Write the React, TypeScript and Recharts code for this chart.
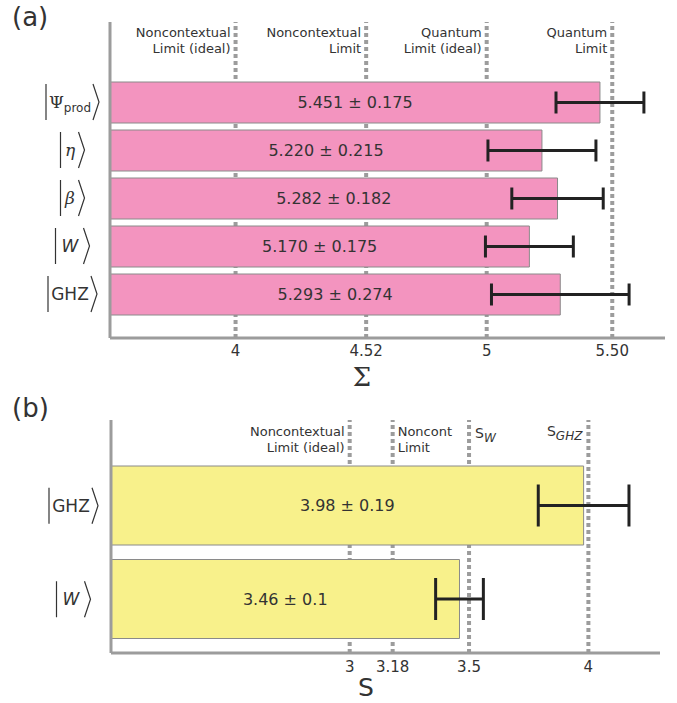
import React from "react";
import { BarChart, Bar, XAxis, YAxis, ReferenceLine, ErrorBar, LabelList } from "recharts";

// panel (a): Sigma
const sigmaStates = ["Ψprod", "η", "β", "W", "GHZ"];
const sigmaValues = [5.451, 5.22, 5.282, 5.17, 5.293];
const sigmaErrors = [0.175, 0.215, 0.182, 0.175, 0.274];
const sigmaTicks = [4, 4.52, 5, 5.5];
const sigmaLimitLabels = [
  ["Noncontextual", "Limit (ideal)"],
  ["Noncontextual", "Limit"],
  ["Quantum", "Limit (ideal)"],
  ["Quantum", "Limit"],
];

// panel (b): S
const sStates = ["GHZ", "W"];
const sValues = [3.98, 3.46];
const sErrors = [0.19, 0.1];
const sTicks = [3, 3.18, 3.5, 4];

const FONT = "'DejaVu Sans', sans-serif";
const INK = "#333";
const GRAY = "#9c9c9c";

const sigmaData = sigmaStates.map((name, i) => ({
  name,
  value: sigmaValues[i],
  err: sigmaErrors[i],
  label: `${sigmaValues[i].toFixed(3)} ± ${sigmaErrors[i].toFixed(3)}`,
}));
const sData = sStates.map((name, i) => ({
  name,
  value: sValues[i],
  err: sErrors[i],
  label: `${sValues[i]} ± ${sErrors[i]}`,
}));

const KET_W: Record<string, number> = { "Ψprod": 40, "η": 11, "β": 11, W: 21, GHZ: 36 };

function ketBody(name: string) {
  if (name === "Ψprod")
    return (
      <>
        <tspan fontFamily="'DejaVu Serif', serif" fontSize={17}>Ψ</tspan>
        <tspan fontSize={12} dy={4}>prod</tspan>
      </>
    );
  if (name === "η" || name === "β")
    return <tspan fontFamily="'DejaVu Serif', serif" fontStyle="italic" fontSize={17}>{name}</tspan>;
  if (name === "W") return <tspan fontStyle="italic" fontSize={17}>W</tspan>;
  return <tspan fontSize={17}>{name}</tspan>;
}

function KetTick(props: any) {
  const { x, y, payload } = props;
  const name = payload.value as string;
  const cx = x - 38;
  const w = KET_W[name] ?? 30;
  const l = cx - w / 2 - 4;
  const r = cx + w / 2 + 3;
  return (
    <g>
      <line x1={l} x2={l} y1={y - 18} y2={y + 18} stroke={INK} strokeWidth={1.2} />
      <polyline
        points={`${r},${y - 18} ${r + 6},${y} ${r},${y + 18}`}
        fill="none"
        stroke={INK}
        strokeWidth={1.2}
      />
      <text x={cx} y={y + 6} textAnchor="middle" fill={INK} fontFamily={FONT}>
        {ketBody(name)}
      </text>
    </g>
  );
}

function limitLabel(lines: string[], anchor: "start" | "end", top: number[]) {
  return (p: any) => {
    const vb = p.viewBox || {};
    const x = anchor === "end" ? vb.x - 5 : vb.x + 5;
    return (
      <text textAnchor={anchor} fill={INK} fontFamily={FONT} fontSize={13}>
        {lines.map((t, i) => (
          <tspan key={i} x={x} y={vb.y + top[i]}>
            {t}
          </tspan>
        ))}
      </text>
    );
  };
}

function subLabel(main: string, sub: string, anchor: "start" | "end", top: number) {
  return (p: any) => {
    const vb = p.viewBox || {};
    const x = anchor === "end" ? vb.x - 6 : vb.x + 6;
    return (
      <text x={x} y={vb.y + top} textAnchor={anchor} fill={INK} fontFamily={FONT} fontSize={14}>
        {main}
        <tspan fontSize={12} dy={4} fontStyle="italic">{sub}</tspan>
      </text>
    );
  };
}

const refStyle = { stroke: GRAY, strokeWidth: 4, strokeDasharray: "4 3", zIndex: 0 };

export default function App() {
  return (
    <div style={{ position: "absolute", left: 0, top: 0, width: 677, height: 703, background: "#fff", fontFamily: FONT }}>
      <div style={{ position: "absolute", left: 12, top: 2, fontSize: 26, color: INK }}>(a)</div>
      <div style={{ position: "absolute", left: 0, top: 0 }}>
        <BarChart
          width={677}
          height={395}
          data={sigmaData}
          layout="vertical"
          margin={{ top: 22, right: 12, bottom: 27, left: 0 }}
          barSize={41}
        >
          <XAxis
            type="number"
            domain={[3.5, 5.71]}
            ticks={sigmaTicks}
            allowDataOverflow
            interval={0}
            height={30}
            tickSize={0}
            tickMargin={7}
            tickLine={false}
            tickFormatter={(v: number) => (v === 5.5 ? "5.50" : String(v))}
            tick={{ fill: INK, fontSize: 15, fontFamily: FONT }}
            axisLine={{ stroke: GRAY, strokeWidth: 3 }}
            label={{
              content: (p: any) => (
                <text
                  x={p.viewBox.x + 252}
                  y={p.viewBox.y + 48}
                  textAnchor="middle"
                  fill={INK}
                  fontFamily="'DejaVu Serif', serif"
                  fontSize={26}
                >
                  Σ
                </text>
              ),
            }}
          />
          <YAxis
            type="category"
            dataKey="name"
            width={110}
            tickLine={false}
            tickSize={0}
            padding={{ top: 56, bottom: 20 }}
            axisLine={{ stroke: GRAY, strokeWidth: 3 }}
            tick={<KetTick />}
          />
          {sigmaTicks.map((v, i) => (
            <ReferenceLine key={v} x={v} {...refStyle} label={limitLabel(sigmaLimitLabels[i], "end", [15, 31])} />
          ))}
          <Bar dataKey="value" fill="#f394bf" stroke="#8a8a8a" strokeWidth={1} isAnimationActive={false}>
            <LabelList dataKey="label" position="center" fill={INK} fontSize={16} fontFamily={FONT} />
            <ErrorBar dataKey="err" direction="x" width={11} stroke="#222" strokeWidth={3} isAnimationActive={false} />
          </Bar>
        </BarChart>
      </div>

      <div style={{ position: "absolute", left: 12, top: 393, fontSize: 26, color: INK }}>(b)</div>
      <div style={{ position: "absolute", left: 0, top: 395 }}>
        <BarChart
          width={677}
          height={308}
          data={sData}
          layout="vertical"
          margin={{ top: 25, right: 17, bottom: 20, left: 0 }}
          barSize={79}
        >
          <XAxis
            type="number"
            domain={[2, 4.3]}
            ticks={sTicks}
            allowDataOverflow
            interval={0}
            height={30}
            tickSize={0}
            tickMargin={8}
            tickLine={false}
            tick={{ fill: INK, fontSize: 15, fontFamily: FONT }}
            axisLine={{ stroke: GRAY, strokeWidth: 3 }}
            label={{
              content: (p: any) => (
                <text x={p.viewBox.x + 255} y={p.viewBox.y + 43} textAnchor="middle" fill={INK} fontFamily={FONT} fontSize={25}>
                  S
                </text>
              ),
            }}
          />
          <YAxis
            type="category"
            dataKey="name"
            width={111}
            tickLine={false}
            tickSize={0}
            padding={{ top: 39, bottom: 7 }}
            axisLine={{ stroke: GRAY, strokeWidth: 3 }}
            tick={<KetTick />}
          />
          <ReferenceLine x={3} {...refStyle} label={limitLabel(["Noncontextual", "Limit (ideal)"], "end", [16, 32])} />
          <ReferenceLine x={3.18} {...refStyle} label={limitLabel(["Noncont", "Limit"], "start", [16, 32])} />
          <ReferenceLine x={3.5} {...refStyle} label={subLabel("S", "W", "start", 18)} />
          <ReferenceLine x={4} {...refStyle} label={subLabel("S", "GHZ", "end", 16)} />
          <Bar dataKey="value" fill="#f8f18b" stroke="#8a8a8a" strokeWidth={1} isAnimationActive={false}>
            <LabelList dataKey="label" position="center" fill={INK} fontSize={16} fontFamily={FONT} />
            <ErrorBar dataKey="err" direction="x" width={21} stroke="#222" strokeWidth={3} isAnimationActive={false} />
          </Bar>
        </BarChart>
      </div>
    </div>
  );
}
